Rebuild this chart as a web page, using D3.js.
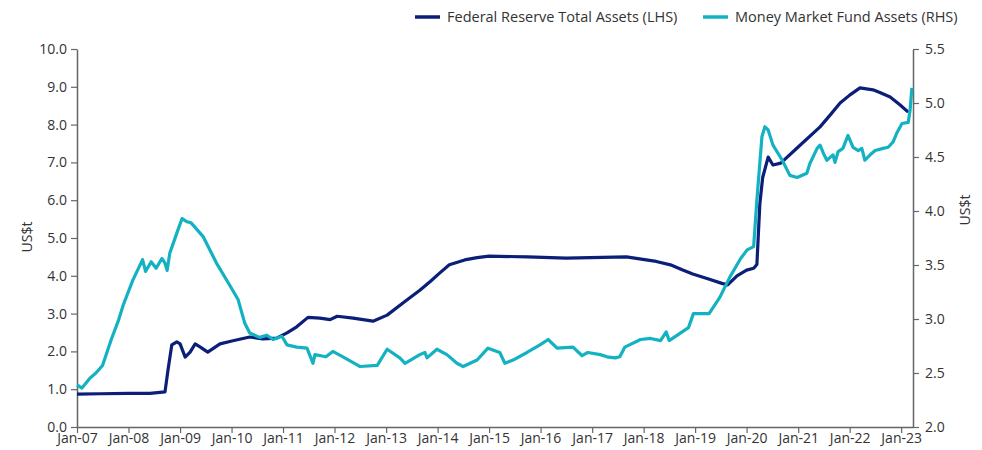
<!DOCTYPE html>
<html>
<head>
<meta charset="utf-8">
<script src="https://cdn.jsdelivr.net/npm/d3@7"></script>
<style>
  body { margin: 0; background: #fff; }
  svg { font-family: "Open Sans", "Noto Sans", sans-serif; }
</style>
</head>
<body>
<script>
//---------------------------------- data
var fedDates = ["2007-01-01","2007-06-15","2008-01-01","2008-06-01","2008-09-16","2008-10-07","2008-11-03","2008-12-09","2009-01-01","2009-02-06","2009-03-13","2009-04-18","2009-05-22","2009-07-16","2009-10-11","2010-01-11","2010-05-10","2010-08-10","2010-11-17","2011-01-29","2011-04-08","2011-06-27","2011-09-19","2011-12-01","2012-01-20","2012-05-12","2012-09-30","2013-01-08","2013-05-28","2013-08-28","2013-11-10","2014-01-15","2014-03-25","2014-07-12","2014-10-08","2015-01-01","2015-10-01","2016-07-01","2017-09-01","2017-12-15","2018-04-01","2018-07-10","2018-10-01","2018-12-15","2019-04-01","2019-07-10","2019-08-20","2019-10-25","2020-01-01","2020-02-20","2020-03-14","2020-04-04","2020-04-24","2020-06-02","2020-07-06","2020-08-30","2020-12-24","2021-06-05","2021-08-15","2021-10-25","2022-01-01","2022-03-15","2022-06-15","2022-08-03","2022-10-15","2022-12-25","2023-02-20"];
var fedValues = [0.87,0.88,0.89,0.89,0.93,1.50,2.17,2.25,2.20,1.85,1.98,2.20,2.12,1.98,2.20,2.28,2.38,2.33,2.35,2.49,2.65,2.90,2.88,2.84,2.93,2.88,2.80,2.96,3.36,3.62,3.85,4.07,4.29,4.42,4.48,4.52,4.50,4.47,4.50,4.44,4.38,4.29,4.16,4.05,3.92,3.80,3.76,4.00,4.15,4.20,4.30,5.90,6.60,7.14,6.93,6.98,7.38,7.94,8.25,8.57,8.78,8.97,8.92,8.85,8.73,8.52,8.33];

var mmfDates = ["2007-01-01","2007-02-05","2007-04-01","2007-05-15","2007-07-01","2007-09-01","2007-10-20","2007-11-25","2008-02-01","2008-04-10","2008-05-01","2008-06-10","2008-07-15","2008-08-25","2008-09-15","2008-10-01","2008-10-20","2008-12-10","2009-01-15","2009-02-20","2009-03-20","2009-06-15","2009-09-15","2009-12-20","2010-02-16","2010-04-05","2010-05-10","2010-07-19","2010-09-08","2010-10-22","2010-12-24","2011-01-29","2011-04-08","2011-06-20","2011-08-01","2011-08-15","2011-11-01","2011-12-20","2012-03-01","2012-07-01","2012-10-30","2013-01-08","2013-04-08","2013-05-15","2013-08-28","2013-10-03","2013-10-18","2013-12-27","2014-03-08","2014-05-18","2014-07-01","2014-10-08","2014-12-24","2015-03-18","2015-04-23","2015-06-20","2015-09-27","2015-12-28","2016-02-24","2016-04-27","2016-08-18","2016-10-22","2016-12-01","2017-02-27","2017-04-16","2017-06-13","2017-07-16","2017-08-21","2017-12-10","2018-02-20","2018-05-01","2018-06-10","2018-07-01","2018-11-15","2018-12-20","2019-04-10","2019-06-25","2019-09-05","2019-11-20","2020-01-05","2020-02-20","2020-03-14","2020-04-19","2020-05-10","2020-06-02","2020-07-06","2020-09-10","2020-11-03","2020-12-24","2021-03-03","2021-03-25","2021-05-15","2021-06-05","2021-06-27","2021-07-23","2021-09-05","2021-09-19","2021-10-11","2021-11-14","2021-12-20","2022-01-25","2022-03-03","2022-03-28","2022-04-19","2022-05-26","2022-07-01","2022-08-26","2022-10-01","2022-11-05","2022-12-04","2023-01-07","2023-02-20","2023-03-05","2023-03-18"];
var mmfValues = [2.39,2.36,2.45,2.50,2.57,2.81,2.98,3.13,3.36,3.55,3.44,3.53,3.47,3.56,3.52,3.45,3.61,3.80,3.93,3.90,3.89,3.76,3.52,3.31,3.18,2.96,2.87,2.83,2.85,2.81,2.84,2.76,2.74,2.73,2.59,2.67,2.65,2.70,2.65,2.56,2.57,2.72,2.64,2.59,2.67,2.69,2.64,2.72,2.67,2.59,2.56,2.62,2.73,2.69,2.59,2.62,2.69,2.76,2.81,2.73,2.74,2.66,2.69,2.67,2.65,2.64,2.65,2.74,2.81,2.82,2.80,2.88,2.80,2.92,3.05,3.05,3.20,3.39,3.56,3.64,3.67,4.10,4.69,4.78,4.75,4.61,4.47,4.33,4.31,4.35,4.44,4.58,4.61,4.54,4.47,4.52,4.45,4.55,4.58,4.70,4.59,4.56,4.58,4.47,4.52,4.56,4.58,4.59,4.64,4.73,4.81,4.82,4.93,5.14];

var leftTicks = [0,1,2,3,4,5,6,7,8,9,10];
var rightTicks = [2.0,2.5,3.0,3.5,4.0,4.5,5.0,5.5];
var yearTicks = d3.range(2007, 2024);
var seriesNames = ["Federal Reserve Total Assets (LHS)", "Money Market Fund Assets (RHS)"];
var colores = ["#0b1f78", "#13b2c2"];
//----------------------------------

var ancho = 982, alto = 450;
var margenes = {top: 49, left: 77, right: 69, bottom: 23};
var parse = d3.timeParse("%Y-%m-%d");

var fed = fedDates.map(function (d, i) { return {date: parse(d), v: fedValues[i]}; });
var mmf = mmfDates.map(function (d, i) { return {date: parse(d), v: mmfValues[i]}; });

var x = d3.scaleTime()
	.domain([new Date(2007, 0, 1), new Date(2023, 2, 26)])
	.range([margenes.left, ancho - margenes.right]);
var yL = d3.scaleLinear().domain([0, 10]).range([alto - margenes.bottom, margenes.top]);
var yR = d3.scaleLinear().domain([2, 5.5]).range([alto - margenes.bottom, margenes.top]);

var svg = d3.select("body").append("svg")
	.attr("width", ancho)
	.attr("height", alto);

// ejes
var gx = svg.append("g")
	.attr("transform", "translate(0," + (alto - margenes.bottom) + ")")
	.call(d3.axisBottom(x)
		.tickValues(yearTicks.map(function (y) { return new Date(y, 0, 1); }))
		.tickFormat(d3.timeFormat("Jan-%y"))
		.tickSize(6).tickSizeOuter(0));

var gl = svg.append("g")
	.attr("transform", "translate(" + margenes.left + ",0)")
	.call(d3.axisLeft(yL).tickValues(leftTicks).tickFormat(d3.format(".1f")).tickSize(6).tickSizeOuter(0));

var gr = svg.append("g")
	.attr("transform", "translate(" + (ancho - margenes.right) + ",0)")
	.call(d3.axisRight(yR).tickValues(rightTicks).tickFormat(d3.format(".1f")).tickSize(6).tickSizeOuter(0));

[gx, gl, gr].forEach(function (g) {
	g.selectAll(".domain").attr("stroke", "#666").attr("stroke-width", 1.5);
	g.selectAll(".tick line").attr("stroke", "#666").attr("stroke-width", 1.2);
	g.selectAll(".tick text").attr("fill", "#333").style("font-size", "14px")
		.style("font-family", "'Open Sans', 'Noto Sans', sans-serif");
});
gx.selectAll(".tick text").attr("y", 16).attr("dy", 0);
gl.selectAll(".tick text").attr("x", -10);
gr.selectAll(".tick text").attr("x", 12);

// titulos de ejes
svg.append("text")
	.attr("transform", "translate(32,237) rotate(-90)")
	.attr("text-anchor", "middle")
	.attr("fill", "#333").style("font-size", "14px")
	.text("US$t");
svg.append("text")
	.attr("transform", "translate(970,210) rotate(-90)")
	.attr("text-anchor", "middle")
	.attr("fill", "#333").style("font-size", "14px")
	.text("US$t");

// lineas
var lineL = d3.line().x(function (d) { return x(d.date); }).y(function (d) { return yL(d.v); });
var lineR = d3.line().x(function (d) { return x(d.date); }).y(function (d) { return yR(d.v); });

svg.append("path").datum(fed)
	.attr("d", lineL)
	.attr("fill", "none").attr("stroke", colores[0]).attr("stroke-width", 3.2)
	.attr("stroke-linejoin", "round");
svg.append("path").datum(mmf)
	.attr("d", lineR)
	.attr("fill", "none").attr("stroke", colores[1]).attr("stroke-width", 3.2)
	.attr("stroke-linejoin", "round");

// leyenda
var legendX = [415, 703];
seriesNames.forEach(function (n, i) {
	var g = svg.append("g").attr("transform", "translate(" + legendX[i] + ",17)");
	g.append("line").attr("x1", 0).attr("x2", 25).attr("y1", 0).attr("y2", 0)
		.attr("stroke", colores[i]).attr("stroke-width", 3.5);
	g.append("text").attr("x", 32).attr("dy", "0.35em")
		.attr("fill", "#333").style("font-size", "14.5px")
		.text(n);
});
</script>
</body>
</html>
